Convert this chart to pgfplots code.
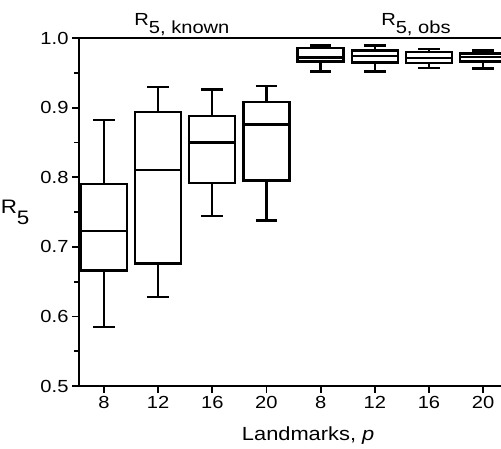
\documentclass[border=0pt]{standalone}
\usepackage{fontspec}
\setmainfont{Liberation Sans}[FakeStretch=1.15]
\usepackage{pgfplots}
\pgfplotsset{compat=1.18}
\usepgfplotslibrary{statistics}
\pgfplotsset{bx/.style={black, line width=2.4pt, solid, boxplot/draw direction=y, boxplot/box extend=0.85, boxplot/whisker extend=0.4}}
\begin{document}
\begin{tikzpicture}
\begin{axis}[
  scale only axis, width=422pt, height=348pt,
  xmin=-0.46, xmax=7.33, ymin=0.5, ymax=1.0,
  clip=false,
  axis x line*=box, axis y line*=left,
  axis line style={line width=2.4pt},
  xtick={0,1,2,3,4,5,6,7},
  xticklabels={8,12,16,20,8,12,16,20},
  xtick pos=bottom,
  ytick={0.5,0.6,0.7,0.8,0.9,1.0},
  yticklabels={0.5,0.6,0.7,0.8,0.9,1.0},
  minor ytick={0.55,0.65,0.75,0.85,0.95},
  tick align=outside,
  major tick length=7pt, minor tick length=5pt,
  major tick style={black, line width=1.8pt},
  minor tick style={black, line width=1.8pt},
  /pgf/number format/assume math mode=true,
  tick label style={font=\fontsize{17.5}{20}\selectfont},
  every axis y label/.style={at={(axis description cs:0,0.5)}, anchor=east, xshift=-46pt},
  ylabel={\fontsize{19.5}{22}\selectfont R\raisebox{-11pt}{5}},
  every axis x label/.style={at={(axis description cs:0.543,0)}, anchor=base, yshift=-54pt},
  xlabel={\fontsize{19}{22}\selectfont Landmarks, \textit{p}},
]
% known
\addplot[bx, boxplot prepared={draw position=0, lower whisker=0.585, lower quartile=0.666, median=0.723, upper quartile=0.790, upper whisker=0.882}] coordinates {};
\addplot[bx, boxplot prepared={draw position=1, lower whisker=0.628, lower quartile=0.676, median=0.810, upper quartile=0.894, upper whisker=0.930}] coordinates {};
\addplot[bx, boxplot prepared={draw position=2, lower whisker=0.744, lower quartile=0.792, median=0.850, upper quartile=0.888, upper whisker=0.926}] coordinates {};
\addplot[bx, boxplot prepared={draw position=3, lower whisker=0.738, lower quartile=0.795, median=0.876, upper quartile=0.908, upper whisker=0.931}] coordinates {};
% obs
\addplot[bx, boxplot prepared={draw position=4, lower whisker=0.952, lower quartile=0.966, median=0.972, upper quartile=0.986, upper whisker=0.989}] coordinates {};
\addplot[bx, boxplot prepared={draw position=5, lower whisker=0.952, lower quartile=0.965, median=0.974, upper quartile=0.982, upper whisker=0.989}] coordinates {};
\addplot[bx, boxplot prepared={draw position=6, lower whisker=0.957, lower quartile=0.964, median=0.971, upper quartile=0.980, upper whisker=0.984}] coordinates {};
\addplot[bx, boxplot prepared={draw position=7, lower whisker=0.956, lower quartile=0.966, median=0.973, upper quartile=0.978, upper whisker=0.982}] coordinates {};
\node[anchor=base, yshift=13pt, font=\fontsize{17.5}{20}\selectfont] at (axis cs:1.44,1.0) {R\raisebox{-8pt}{5, known}};
\node[anchor=base, yshift=13pt, font=\fontsize{17.5}{20}\selectfont] at (axis cs:5.76,1.0) {R\raisebox{-8pt}{5, obs}};
\end{axis}
\pgfresetboundingbox
\path ([shift={(-79pt,-62pt)}]current axis.south west) rectangle ([shift={(0pt,38pt)}]current axis.north east);
\end{tikzpicture}
\end{document}
